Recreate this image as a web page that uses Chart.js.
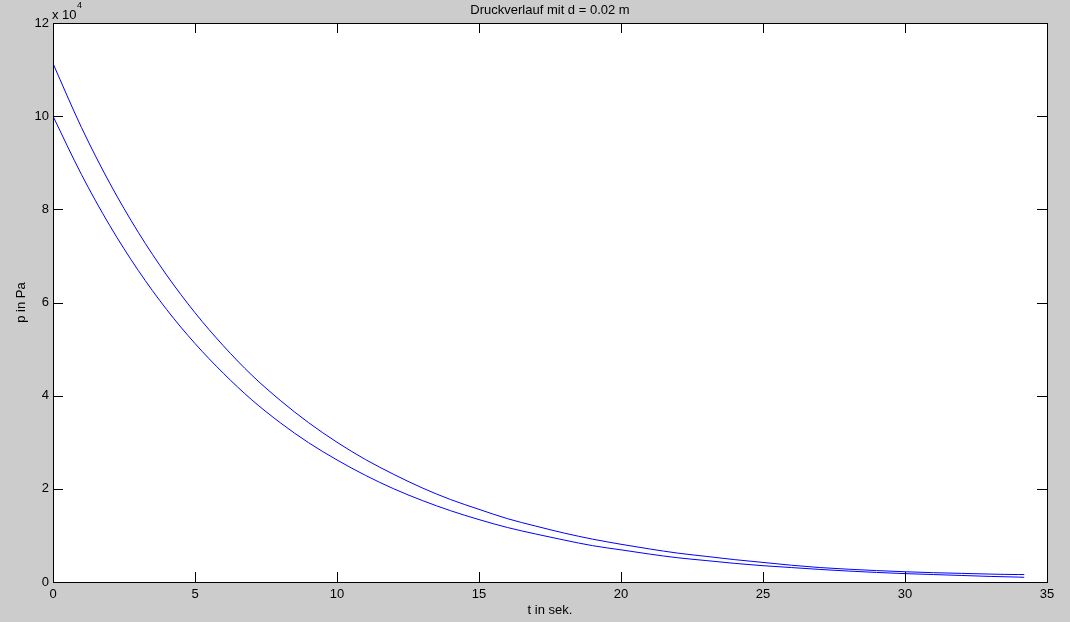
<!DOCTYPE html>
<html>
<head>
<meta charset="utf-8">
<script src="https://cdn.jsdelivr.net/npm/chart.js@4/dist/chart.umd.min.js"></script>
<style>
  html, body { margin: 0; padding: 0; background: #cccccc; }
  #wrap { width: 1070px; height: 622px; }
</style>
</head>
<body>
<div id="wrap"><canvas id="chart" width="1070" height="622"></canvas></div>
<script>
const title = 'Druckverlauf mit d = 0.02 m';
const xLabel = 't in sek.';
const yLabel = 'p in Pa';

// time in seconds
const times = [0, 1, 2, 3, 4, 5, 6, 7, 8, 9, 10, 11, 12, 13, 14, 15, 16, 17, 18, 19, 20,
  21, 22, 23, 24, 25, 26, 27, 28, 29, 30, 31, 32, 33, 34, 34.2];

// pressure in Pa
const upperP = [111300, 97600, 85600, 75100, 65900, 57800, 50700, 44400, 39000, 34200, 30000,
  26300, 23100, 20200, 17700, 15600, 13600, 12000, 10500, 9200, 8100,
  7100, 6200, 5500, 4800, 4200, 3600, 3100, 2750, 2450, 2200, 2000, 1850, 1700, 1600, 1600];
const lowerP = [100000, 87500, 76500, 66900, 58500, 51200, 44800, 39100, 34200, 29900, 26200,
  22900, 20000, 17500, 15300, 13400, 11700, 10300, 9000, 7800, 6900,
  6000, 5200, 4600, 4000, 3500, 3100, 2700, 2350, 2050, 1800, 1600, 1400, 1200, 1050, 1000];

const xTicks = [0, 5, 10, 15, 20, 25, 30, 35];
const yTicks = [0, 20000, 40000, 60000, 80000, 100000, 120000];

const fontFamily = '"Liberation Sans", Arial, sans-serif';
const font = { family: fontFamily, size: 13 };

const matlabFrame = {
  id: 'matlabFrame',
  afterDraw(chart) {
    const { ctx, chartArea: a, scales } = chart;
    ctx.save();
    ctx.strokeStyle = '#000';
    ctx.lineWidth = 1;
    ctx.beginPath();
    xTicks.forEach(v => {
      const x = Math.round(scales.x.getPixelForValue(v)) + 0.5;
      ctx.moveTo(x, a.bottom); ctx.lineTo(x, a.bottom - 10);
      ctx.moveTo(x, a.top); ctx.lineTo(x, a.top + 10);
    });
    yTicks.forEach(v => {
      const y = Math.round(scales.y.getPixelForValue(v)) + 0.5;
      ctx.moveTo(a.left, y); ctx.lineTo(a.left + 10, y);
      ctx.moveTo(a.right, y); ctx.lineTo(a.right - 10, y);
    });
    ctx.stroke();
    ctx.strokeRect(Math.round(a.left) + 0.5, Math.round(a.top) + 0.5,
      Math.round(a.right - a.left), Math.round(a.bottom - a.top));

    ctx.fillStyle = '#000';
    ctx.font = '13px ' + fontFamily;
    ctx.textAlign = 'center';
    ctx.textBaseline = 'middle';
    ctx.fillText(title, (a.left + a.right) / 2, 10);

    ctx.textAlign = 'left';
    ctx.fillText('x 10', a.left - 1, 15);
    ctx.font = '9px ' + fontFamily;
    ctx.fillText('4', a.left + 24, 6);
    ctx.restore();
  }
};

new Chart(document.getElementById('chart'), {
  type: 'line',
  data: {
    datasets: [
      { data: times.map((t, i) => ({ x: t, y: upperP[i] })), borderColor: '#0000ff', borderWidth: 1, pointRadius: 0, fill: false, cubicInterpolationMode: 'monotone' },
      { data: times.map((t, i) => ({ x: t, y: lowerP[i] })), borderColor: '#0000ff', borderWidth: 1, pointRadius: 0, fill: false, cubicInterpolationMode: 'monotone' }
    ]
  },
  plugins: [
    { id: 'bg', beforeDraw(chart) {
      const { ctx, chartArea: a } = chart;
      ctx.save();
      ctx.fillStyle = '#cccccc';
      ctx.fillRect(0, 0, chart.width, chart.height);
      ctx.fillStyle = '#ffffff';
      ctx.fillRect(a.left, a.top, a.right - a.left, a.bottom - a.top);
      ctx.restore();
    } },
    matlabFrame
  ],
  options: {
    responsive: false,
    animation: false,
    layout: { padding: { top: 23, right: 23, left: 0, bottom: 0 } },
    plugins: { legend: { display: false }, title: { display: false }, tooltip: { enabled: false } },
    scales: {
      x: {
        type: 'linear', min: 0, max: 35,
        afterFit(s) { s.height = 40; },
        afterBuildTicks(s) { s.ticks = xTicks.map(v => ({ value: v })); },
        grid: { display: false, drawTicks: false },
        border: { display: false },
        ticks: { color: '#000', font, padding: 5, maxRotation: 0 },
        title: { display: true, text: xLabel, color: '#000', font, padding: { top: 0, bottom: 4 } }
      },
      y: {
        type: 'linear', min: 0, max: 120000,
        afterFit(s) { s.width = 53; },
        afterBuildTicks(s) { s.ticks = yTicks.map(v => ({ value: v })); },
        grid: { display: false, drawTicks: false },
        border: { display: false },
        ticks: { color: '#000', font, padding: 4, callback: v => v / 10000 },
        title: { display: true, text: yLabel, color: '#000', font, padding: { top: 14, bottom: 0 } }
      }
    }
  }
});
</script>
</body>
</html>
